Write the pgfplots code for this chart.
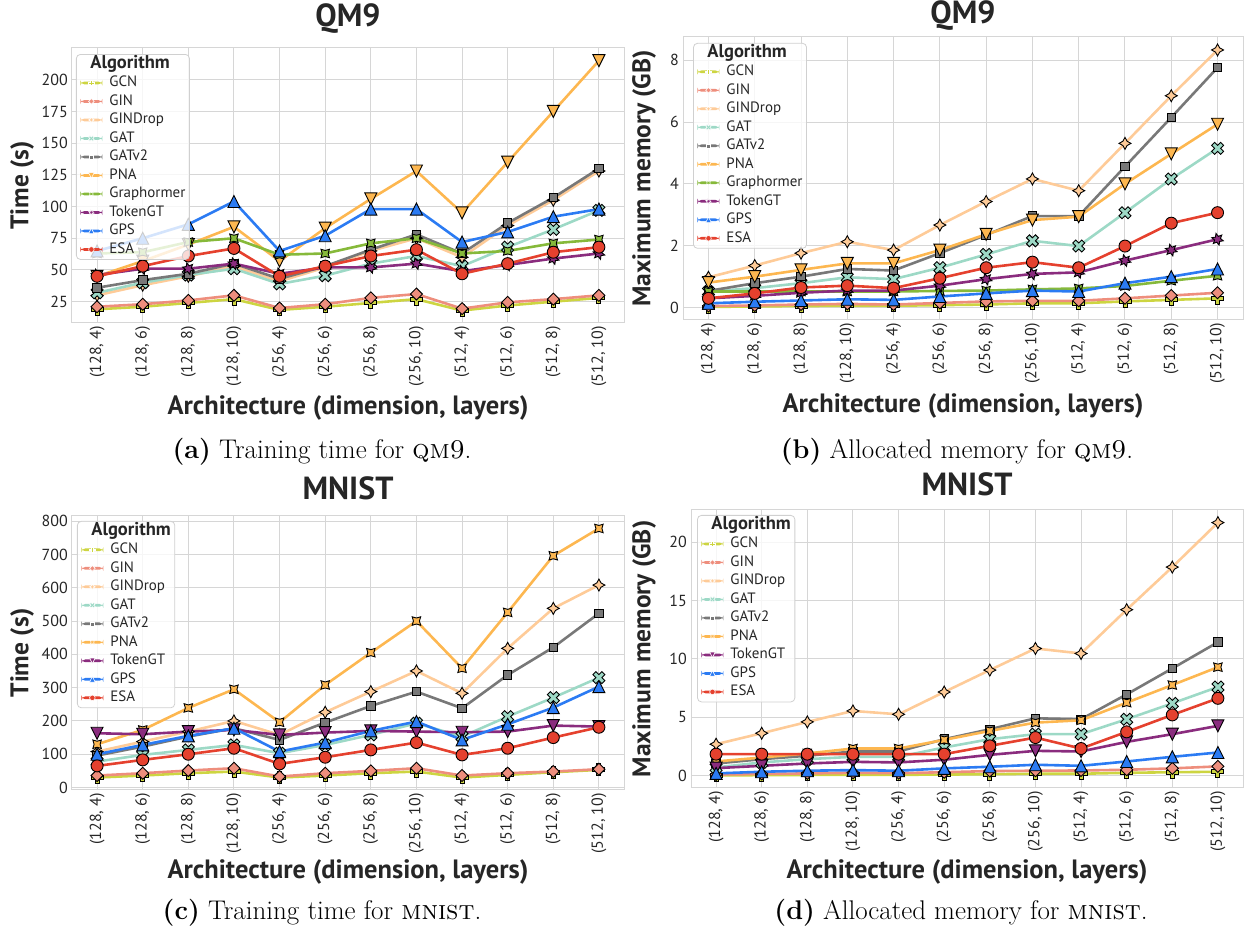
\documentclass[border=0pt]{standalone}
\usepackage{fontspec}
\usepackage{pgfplots}
\usepackage{pgfplotstable}
\pgfplotsset{compat=1.18}

\newfontfamily\pts{PT Sans}
\newcommand\tickf{\pts\fontsize{16}{19}\selectfont}
\newcommand\xlabf{\pts\bfseries\fontsize{26.5}{30}\selectfont}
\newcommand\ylabf{\pts\bfseries\fontsize{25.5}{30}\selectfont}
\newcommand\titf{\pts\bfseries\fontsize{32}{36}\selectfont}
\newcommand\legf{\pts\fontsize{15}{17}\selectfont}
\newcommand\legtf{\pts\bfseries\fontsize{18.5}{20}\selectfont}
\newcommand\capf{\fontsize{27}{32}\selectfont}

\definecolor{cGCN}{HTML}{CDD541}
\definecolor{cGIN}{HTML}{EE8E7D}
\definecolor{cGINDrop}{HTML}{FECB98}
\definecolor{cGAT}{HTML}{9DD9C6}
\definecolor{cGATv2}{HTML}{787878}
\definecolor{cPNA}{HTML}{FDB750}
\definecolor{cGraph}{HTML}{86B93A}
\definecolor{cTok}{HTML}{8A2C7E}
\definecolor{cGPS}{HTML}{2B7BF3}
\definecolor{cESA}{HTML}{E5412E}
\definecolor{gridc}{HTML}{D6D6D6}
\definecolor{legc}{HTML}{D0D0D0}
\definecolor{labc}{HTML}{262626}

% marker shapes (all scaled by the mark size)
\newcommand\mpt[2]{\pgfpoint{#1\pgfplotmarksize}{#2\pgfplotmarksize}}
\newcommand\mpp[2]{\pgfpointpolar{#1}{#2\pgfplotmarksize}}
\pgfdeclareplotmark{mO}{\pgfpathcircle{\pgfpointorigin}{\pgfplotmarksize}\pgfusepathqfillstroke}
\pgfdeclareplotmark{mP}{%
 \pgfpathmoveto{\mpt{-0.3333}{-1}}\pgfpathlineto{\mpt{0.3333}{-1}}%
 \pgfpathlineto{\mpt{0.3333}{-0.3333}}\pgfpathlineto{\mpt{1}{-0.3333}}%
 \pgfpathlineto{\mpt{1}{0.3333}}\pgfpathlineto{\mpt{0.3333}{0.3333}}%
 \pgfpathlineto{\mpt{0.3333}{1}}\pgfpathlineto{\mpt{-0.3333}{1}}%
 \pgfpathlineto{\mpt{-0.3333}{0.3333}}\pgfpathlineto{\mpt{-1}{0.3333}}%
 \pgfpathlineto{\mpt{-1}{-0.3333}}\pgfpathlineto{\mpt{-0.3333}{-0.3333}}%
 \pgfpathclose\pgfusepathqfillstroke}
\pgfdeclareplotmark{mX}{%
 \pgfpathmoveto{\mpt{-0.5}{-1}}\pgfpathlineto{\mpt{0}{-0.5}}%
 \pgfpathlineto{\mpt{0.5}{-1}}\pgfpathlineto{\mpt{1}{-0.5}}%
 \pgfpathlineto{\mpt{0.5}{0}}\pgfpathlineto{\mpt{1}{0.5}}%
 \pgfpathlineto{\mpt{0.5}{1}}\pgfpathlineto{\mpt{0}{0.5}}%
 \pgfpathlineto{\mpt{-0.5}{1}}\pgfpathlineto{\mpt{-1}{0.5}}%
 \pgfpathlineto{\mpt{-0.5}{0}}\pgfpathlineto{\mpt{-1}{-0.5}}%
 \pgfpathclose\pgfusepathqfillstroke}
\pgfdeclareplotmark{mSq}{%
 \pgfpathmoveto{\mpt{-0.7071}{-0.7071}}\pgfpathlineto{\mpt{0.7071}{-0.7071}}%
 \pgfpathlineto{\mpt{0.7071}{0.7071}}\pgfpathlineto{\mpt{-0.7071}{0.7071}}%
 \pgfpathclose\pgfusepathqfillstroke}
\pgfdeclareplotmark{mD}{%
 \pgfpathmoveto{\mpt{0}{-1}}\pgfpathlineto{\mpt{1}{0}}%
 \pgfpathlineto{\mpt{0}{1}}\pgfpathlineto{\mpt{-1}{0}}%
 \pgfpathclose\pgfusepathqfillstroke}
\pgfdeclareplotmark{mUp}{%
 \pgfpathmoveto{\mpt{0}{1}}\pgfpathlineto{\mpt{-1}{-1}}\pgfpathlineto{\mpt{1}{-1}}%
 \pgfpathclose\pgfusepathqfillstroke}
\pgfdeclareplotmark{mDown}{%
 \pgfpathmoveto{\mpt{0}{-1}}\pgfpathlineto{\mpt{-1}{1}}\pgfpathlineto{\mpt{1}{1}}%
 \pgfpathclose\pgfusepathqfillstroke}
\pgfdeclareplotmark{mStarA}{% four-point star
 \pgfpathmoveto{\mpp{90}{1}}\pgfpathlineto{\mpp{135}{0.5}}%
 \pgfpathlineto{\mpp{180}{1}}\pgfpathlineto{\mpp{225}{0.5}}%
 \pgfpathlineto{\mpp{270}{1}}\pgfpathlineto{\mpp{315}{0.5}}%
 \pgfpathlineto{\mpp{0}{1}}\pgfpathlineto{\mpp{45}{0.5}}%
 \pgfpathclose\pgfusepathqfillstroke}
\pgfdeclareplotmark{mStarB}{% four-point star turned by 45 degrees
 \pgfpathmoveto{\mpp{135}{1}}\pgfpathlineto{\mpp{180}{0.5}}%
 \pgfpathlineto{\mpp{225}{1}}\pgfpathlineto{\mpp{270}{0.5}}%
 \pgfpathlineto{\mpp{315}{1}}\pgfpathlineto{\mpp{0}{0.5}}%
 \pgfpathlineto{\mpp{45}{1}}\pgfpathlineto{\mpp{90}{0.5}}%
 \pgfpathclose\pgfusepathqfillstroke}
\pgfdeclareplotmark{mStarC}{% six-point star
 \pgfpathmoveto{\mpp{105}{1}}\pgfpathlineto{\mpp{135}{0.5}}%
 \pgfpathlineto{\mpp{165}{1}}\pgfpathlineto{\mpp{195}{0.5}}%
 \pgfpathlineto{\mpp{225}{1}}\pgfpathlineto{\mpp{255}{0.5}}%
 \pgfpathlineto{\mpp{285}{1}}\pgfpathlineto{\mpp{315}{0.5}}%
 \pgfpathlineto{\mpp{345}{1}}\pgfpathlineto{\mpp{15}{0.5}}%
 \pgfpathlineto{\mpp{45}{1}}\pgfpathlineto{\mpp{75}{0.5}}%
 \pgfpathclose\pgfusepathqfillstroke}

% legend swatch: a thick bar in the series colour with a small marker on it
\newcommand\legimg[2]{%
 \begin{pgfscope}
 \pgfsetfillopacity{1}\pgfsetstrokeopacity{1}%
 \pgfsetfillcolor{#1}%
 \pgfpathrectangle{\pgfpoint{0pt}{-1.4pt}}{\pgfpoint{22pt}{2.8pt}}\pgfusepath{fill}%
 \pgfsetlinewidth{0.6pt}\pgfsetstrokecolor{white}%
 \pgftransformshift{\pgfpoint{11pt}{0pt}}%
 \pgfsetplotmarksize{2.8pt}%
 \pgfuseplotmark{#2}%
 \end{pgfscope}}

% QM9 training time (s)
\pgfplotstableread{
x GCN GIN GINDrop GAT GATv2 PNA Graphormer TokenGT GPS ESA
0 19 21 30 32 36 45 63 46 65 45
1 21 23 38 40 42 57 64 51 75 53
2 24 26 45 46 47 70 72 51 86 61
3 27 30 53 51 55 84 75 55 104 67
4 18.5 20 41 39 43 57 62 47 65 45
5 21 23 52 45.5 53 83 63 52 77 53
6 24 28 65 55 66 106 71 52 98 61
7 27 31 75 61 78 128 75 55 98 66
8 18 19.5 60 53 63 95 63 49 72 47
9 22 24.5 85 68 87 135 65 54 80 55
10 25 27 105 82 107 175 71 59 92 64
11 28 30 128 97 130 215 74 63 98 68
}\tQMtime

% QM9 maximum memory (GB)
\pgfplotstableread{
x GCN GIN GINDrop GAT GATv2 PNA Graphormer TokenGT GPS ESA
0 0.02 0.05 0.98 0.52 0.54 0.81 0.52 0.30 0.14 0.30
1 0.04 0.07 1.36 0.63 0.79 1.00 0.52 0.38 0.19 0.46
2 0.05 0.10 1.76 0.79 1.00 1.22 0.52 0.48 0.23 0.65
3 0.06 0.12 2.13 0.98 1.25 1.43 0.52 0.55 0.27 0.71
4 0.06 0.10 1.86 0.92 1.20 1.43 0.52 0.55 0.25 0.63
5 0.08 0.15 2.67 1.29 1.76 1.86 0.54 0.71 0.36 0.95
6 0.10 0.20 3.43 1.72 2.35 2.37 0.55 0.92 0.46 1.29
7 0.14 0.22 4.16 2.16 2.96 2.83 0.59 1.09 0.55 1.47
8 0.14 0.22 3.78 1.99 2.96 2.94 0.62 1.14 0.52 1.29
9 0.20 0.30 5.31 3.07 4.56 4.00 0.70 1.52 0.79 1.99
10 0.25 0.39 6.85 4.16 6.15 4.97 0.87 1.86 1.00 2.73
11 0.30 0.48 8.33 5.15 7.76 5.93 1.03 2.21 1.25 3.07
}\tQMmem

% MNIST training time (s)
\pgfplotstableread{
x GCN GIN GINDrop GAT GATv2 PNA TokenGT GPS ESA
0 30 36 108 78 96 130 163 100 65
1 36 43 138 98 123 173 160 128 83
2 43 51 168 113 153 239 168 155 100
3 48 58 200 128 178 295 173 178 118
4 30 33 158 103 143 196 158 108 71
5 36 43 226 128 195 308 165 135 91
6 43 50 288 158 245 405 170 170 113
7 48 58 350 193 288 500 168 198 135
8 30 36 283 153 238 358 166 143 98
9 38 43 418 213 338 526 168 190 118
10 46 48 538 270 421 696 186 240 150
11 53 55 608 330 523 778 183 303 181
}\tMNtime

% MNIST maximum memory (GB)
\pgfplotstableread{
x GCN GIN GINDrop GAT GATv2 PNA TokenGT GPS ESA
0 0.03 0.10 2.70 0.71 1.05 1.22 0.65 0.20 1.85
1 0.05 0.15 3.64 1.14 1.42 1.56 0.85 0.34 1.85
2 0.07 0.20 4.61 1.42 1.71 1.91 1.05 0.43 1.85
3 0.09 0.25 5.55 1.62 2.08 2.33 1.19 0.48 1.85
4 0.08 0.22 5.26 1.62 2.08 2.33 1.14 0.43 1.85
5 0.10 0.30 7.17 2.42 3.13 3.07 1.37 0.63 1.85
6 0.13 0.40 9.05 3.13 3.98 3.84 1.79 0.77 2.56
7 0.17 0.43 10.90 3.56 4.92 4.55 2.13 0.94 3.27
8 0.17 0.45 10.47 3.56 4.84 4.75 2.08 0.85 2.33
9 0.25 0.51 14.22 4.84 6.97 6.26 2.90 1.22 3.76
10 0.30 0.63 17.87 6.20 9.19 7.77 3.56 1.62 5.21
11 0.34 0.80 21.68 7.60 11.44 9.30 4.27 1.99 6.63
}\tMNmem

\pgfplotsset{
  alg/.style 2 args={color=#1, mark=#2, mark options={solid, draw=black, line width=0.9pt},
    legend image code/.code={\legimg{#1}{#2}}},
  aGCN/.style={alg={cGCN}{mP}},
  aGIN/.style={alg={cGIN}{mD}},
  aGINDrop/.style={alg={cGINDrop}{mStarA}},
  aGAT/.style={alg={cGAT}{mX}},
  aGATv2/.style={alg={cGATv2}{mSq}},
  aGraph/.style={alg={cGraph}{mStarB}},
  aGPS/.style={alg={cGPS}{mUp}},
  aESA/.style={alg={cESA}{mO}},
  base/.style={
    scale only axis,
    xmin=-0.55, xmax=11.55,
    xtick={0,...,11},
    xticklabels={{(128, 4)},{(128, 6)},{(128, 8)},{(128, 10)},{(256, 4)},{(256, 6)},{(256, 8)},{(256, 10)},{(512, 4)},{(512, 6)},{(512, 8)},{(512, 10)}},
    grid=major,
    major grid style={draw=gridc, line width=1pt},
    axis line style={draw=gridc, line width=1pt},
    major tick length=0pt,
    ticklabel style={font=\tickf, text=labc},
    xticklabel style={rotate=90, anchor=east, inner sep=3pt},
    yticklabel style={inner sep=4pt},
    /pgf/number format/assume math mode=true,
    xlabel style={font=\xlabf, text=labc, anchor=center},
    ylabel style={font=\ylabf, text=labc, anchor=center},
    title style={font=\titf, text=labc, anchor=base},
    xlabel={Architecture (dimension, layers)},
    legend cell align=left,
    legend style={draw=legc, line width=0.8pt, rounded corners=4pt, fill=white, fill opacity=0.8, text opacity=1,
      inner xsep=4pt, inner ysep=3pt, row sep=4.5pt, column sep=7pt, anchor=north west,
      nodes={inner sep=0pt, text height=11pt, text depth=3pt}, font=\legf, text=labc},
    every axis plot/.append style={line width=2.6pt, mark size=6pt},
  },
}

\begin{document}
\begin{tikzpicture}
\useasboundingbox (0pt,0pt) rectangle (1248pt,931pt);

% (a) QM9 time
\begin{axis}[base, at={(72pt,608pt)}, anchor=south west, width=552pt, height=275pt,
  ymin=8.2, ymax=225, ytick={25,50,...,200},
  title={QM9}, title style={at={(axis description cs:0.5,1.0545)}},
  xlabel style={at={(axis description cs:0.5,-0.309)}},
  ylabel={Time (s)}, ylabel style={at={(axis description cs:-0.0906,0.5)}},
  legend style={at={(axis description cs:0.0072,0.978)}}]
\addlegendimage{empty legend}\addlegendentry{\hspace*{-19pt}\legtf Algorithm}
\addplot[aGCN] table[x=x,y=GCN]{\tQMtime};\addlegendentry{GCN}
\addplot[aGIN] table[x=x,y=GIN]{\tQMtime};\addlegendentry{GIN}
\addplot[aGINDrop] table[x=x,y=GINDrop]{\tQMtime};\addlegendentry{GINDrop}
\addplot[aGAT] table[x=x,y=GAT]{\tQMtime};\addlegendentry{GAT}
\addplot[aGATv2] table[x=x,y=GATv2]{\tQMtime};\addlegendentry{GATv2}
\addplot[alg={cPNA}{mDown}] table[x=x,y=PNA]{\tQMtime};\addlegendentry{PNA}
\addplot[aGraph] table[x=x,y=Graphormer]{\tQMtime};\addlegendentry{Graphormer}
\addplot[alg={cTok}{mStarC}] table[x=x,y=TokenGT]{\tQMtime};\addlegendentry{TokenGT}
\addplot[aGPS] table[x=x,y=GPS]{\tQMtime};\addlegendentry{GPS}
\addplot[aESA] table[x=x,y=ESA]{\tQMtime};\addlegendentry{ESA}
\end{axis}

% (b) QM9 memory
\begin{axis}[base, at={(683pt,611pt)}, anchor=south west, width=560pt, height=283pt,
  ymin=-0.4, ymax=8.75, ytick={0,2,...,8},
  title={QM9}, title style={at={(axis description cs:0.5,1.0265)}},
  xlabel style={at={(axis description cs:0.5,-0.304)}},
  ylabel={Maximum memory (GB)}, ylabel style={at={(axis description cs:-0.0696,0.5)}},
  legend style={at={(axis description cs:0.018,0.979)}}]
\addlegendimage{empty legend}\addlegendentry{\hspace*{-19pt}\legtf Algorithm}
\addplot[aGCN] table[x=x,y=GCN]{\tQMmem};\addlegendentry{GCN}
\addplot[aGIN] table[x=x,y=GIN]{\tQMmem};\addlegendentry{GIN}
\addplot[aGINDrop] table[x=x,y=GINDrop]{\tQMmem};\addlegendentry{GINDrop}
\addplot[aGAT] table[x=x,y=GAT]{\tQMmem};\addlegendentry{GAT}
\addplot[aGATv2] table[x=x,y=GATv2]{\tQMmem};\addlegendentry{GATv2}
\addplot[alg={cPNA}{mDown}] table[x=x,y=PNA]{\tQMmem};\addlegendentry{PNA}
\addplot[aGraph] table[x=x,y=Graphormer]{\tQMmem};\addlegendentry{Graphormer}
\addplot[alg={cTok}{mStarC}] table[x=x,y=TokenGT]{\tQMmem};\addlegendentry{TokenGT}
\addplot[aGPS] table[x=x,y=GPS]{\tQMmem};\addlegendentry{GPS}
\addplot[aESA] table[x=x,y=ESA]{\tQMmem};\addlegendentry{ESA}
\end{axis}

% (c) MNIST time
\begin{axis}[base, at={(72pt,141pt)}, anchor=south west, width=552pt, height=274pt,
  ymin=-7.4, ymax=815.4, ytick={0,100,...,800},
  title={MNIST}, title style={at={(axis description cs:0.5,1.040)}},
  xlabel style={at={(axis description cs:0.5,-0.299)}},
  ylabel={Time (s)}, ylabel style={at={(axis description cs:-0.0906,0.5)}},
  legend style={at={(axis description cs:0.009,0.982)}}]
\addlegendimage{empty legend}\addlegendentry{\hspace*{-19pt}\legtf Algorithm}
\addplot[aGCN] table[x=x,y=GCN]{\tMNtime};\addlegendentry{GCN}
\addplot[aGIN] table[x=x,y=GIN]{\tMNtime};\addlegendentry{GIN}
\addplot[aGINDrop] table[x=x,y=GINDrop]{\tMNtime};\addlegendentry{GINDrop}
\addplot[aGAT] table[x=x,y=GAT]{\tMNtime};\addlegendentry{GAT}
\addplot[aGATv2] table[x=x,y=GATv2]{\tMNtime};\addlegendentry{GATv2}
\addplot[alg={cPNA}{mStarB}] table[x=x,y=PNA]{\tMNtime};\addlegendentry{PNA}
\addplot[alg={cTok}{mDown}] table[x=x,y=TokenGT]{\tMNtime};\addlegendentry{TokenGT}
\addplot[aGPS] table[x=x,y=GPS]{\tMNtime};\addlegendentry{GPS}
\addplot[aESA] table[x=x,y=ESA]{\tMNtime};\addlegendentry{ESA}
\end{axis}

% (d) MNIST memory
\begin{axis}[base, at={(691pt,143pt)}, anchor=south west, width=552pt, height=278pt,
  ymin=-1.05, ymax=22.76, ytick={0,5,...,20},
  title={MNIST}, title style={at={(axis description cs:0.5,1.0288)}},
  xlabel style={at={(axis description cs:0.5,-0.302)}},
  ylabel={Maximum memory (GB)}, ylabel style={at={(axis description cs:-0.0851,0.5)}},
  legend style={at={(axis description cs:0.011,0.982)}}]
\addlegendimage{empty legend}\addlegendentry{\hspace*{-19pt}\legtf Algorithm}
\addplot[aGCN] table[x=x,y=GCN]{\tMNmem};\addlegendentry{GCN}
\addplot[aGIN] table[x=x,y=GIN]{\tMNmem};\addlegendentry{GIN}
\addplot[aGINDrop] table[x=x,y=GINDrop]{\tMNmem};\addlegendentry{GINDrop}
\addplot[aGAT] table[x=x,y=GAT]{\tMNmem};\addlegendentry{GAT}
\addplot[aGATv2] table[x=x,y=GATv2]{\tMNmem};\addlegendentry{GATv2}
\addplot[alg={cPNA}{mStarB}] table[x=x,y=PNA]{\tMNmem};\addlegendentry{PNA}
\addplot[alg={cTok}{mDown}] table[x=x,y=TokenGT]{\tMNmem};\addlegendentry{TokenGT}
\addplot[aGPS] table[x=x,y=GPS]{\tMNmem};\addlegendentry{GPS}
\addplot[aESA] table[x=x,y=ESA]{\tMNmem};\addlegendentry{ESA}
\end{axis}

% sub-figure captions
\node[font=\capf] at (322pt,479pt) {\textbf{(a)} Training time for \textsc{qm9}.};
\node[font=\capf] at (957pt,479pt) {\textbf{(b)} Allocated memory for \textsc{qm9}.};
\node[font=\capf] at (322pt,18pt) {\textbf{(c)} Training time for \textsc{mnist}.};
\node[font=\capf] at (961pt,18pt) {\textbf{(d)} Allocated memory for \textsc{mnist}.};
\end{tikzpicture}
\end{document}
